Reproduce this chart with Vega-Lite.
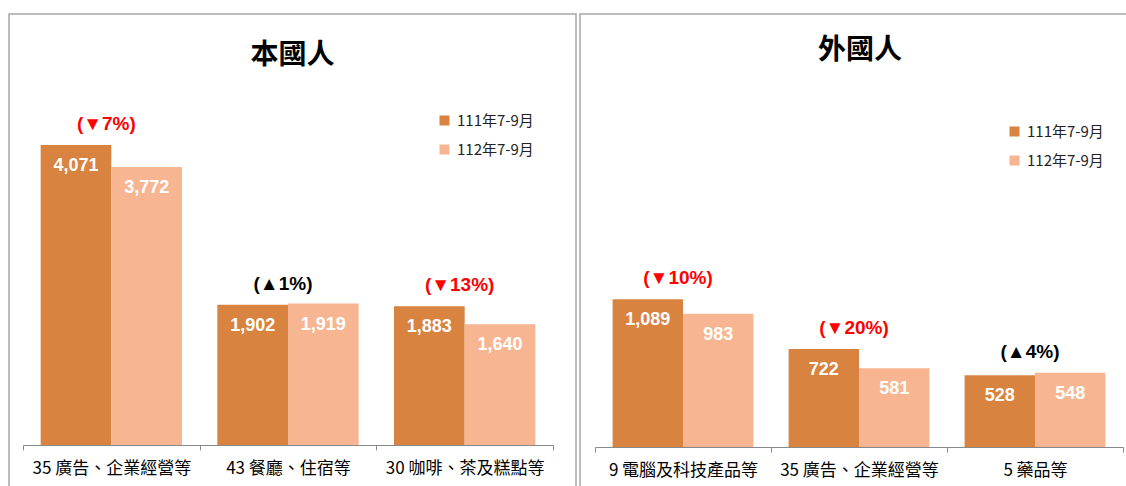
{
  "$schema": "https://vega.github.io/schema/vega-lite/v6.json",
  "background": "white",
  "padding": {"left": 8, "top": 13, "right": 0, "bottom": 0},
  "spacing": 2,
  "config": {
    "view": {"stroke": "#A6A6A6", "strokeWidth": 1.5},
    "font": "Noto Sans CJK TC"
  },
  "resolve": {
    "scale": {"x": "independent", "y": "independent", "color": "independent", "fill": "independent", "xOffset": "independent"},
    "legend": {"color": "independent"}
  },
  "hconcat": [
    {
      "width": 567,
      "height": 475,
      "title": {"text": "本國人", "fontSize": 28, "fontWeight": "bold", "font": "Noto Sans CJK TC", "color": "#000000", "anchor": "middle", "offset": -70, "baseline": "middle"},
      "layer": [
        {
          "data": {"values": [
            {"cat": "35 廣告、企業經營等", "period": "111年7-9月", "value": 4071},
            {"cat": "35 廣告、企業經營等", "period": "112年7-9月", "value": 3772},
            {"cat": "43 餐廳、住宿等", "period": "111年7-9月", "value": 1902},
            {"cat": "43 餐廳、住宿等", "period": "112年7-9月", "value": 1919},
            {"cat": "30 咖啡、茶及糕點等", "period": "111年7-9月", "value": 1883},
            {"cat": "30 咖啡、茶及糕點等", "period": "112年7-9月", "value": 1640}
          ]},
          "layer": [
            {
              "mark": {"type": "bar"},
              "encoding": {
                "x": {"field": "cat", "type": "nominal", "sort": null,
                  "scale": {"range": [14, 544], "paddingInner": 0, "paddingOuter": 0},
                  "axis": {"title": null, "orient": "bottom", "offset": -44, "domainColor": "#898989", "tickColor": "#898989", "tickBand": "extent", "tickSize": 5, "labelFontSize": 17, "labelColor": "#000000", "labelPadding": 10, "labelFont": "Noto Sans CJK TC", "labelAngle": 0, "grid": false, "labelLimit": 0}},
                "xOffset": {"field": "period", "type": "nominal", "sort": null, "scale": {"paddingInner": 0, "paddingOuter": 0.25}},
                "y": {"field": "value", "type": "quantitative", "scale": {"domain": [-597, 5849], "nice": false}, "axis": null},
                "y2": {"datum": 0},
                "color": {"field": "period", "type": "nominal",
                  "scale": {"domain": ["111年7-9月", "112年7-9月"], "range": ["#D98340", "#F8B592"]},
                  "legend": {"title": null, "orient": "none", "legendX": 428, "legendY": 99, "symbolType": "square", "symbolSize": 100, "symbolOpacity": 1, "symbolStrokeWidth": 0, "labelFontSize": 15, "labelFont": "Noto Sans CJK TC", "labelColor": "#222222", "labelOffset": 5, "rowPadding": 13, "padding": 0}}
              }
            },
            {
              "mark": {"type": "text", "baseline": "middle", "dy": 21, "fill": "#FFFFFF", "fontWeight": "bold", "font": "Liberation Sans", "fontSize": 18},
              "encoding": {
                "x": {"field": "cat", "type": "nominal", "sort": null},
                "xOffset": {"field": "period", "type": "nominal", "sort": null},
                "y": {"field": "value", "type": "quantitative"},
                "text": {"field": "value", "type": "quantitative", "format": ","}
              }
            }
          ]
        },
        {
          "data": {"values": [
            {"cat": "35 廣告、企業經營等", "base": 4071, "change": "(▼7%)", "dir": "down"},
            {"cat": "43 餐廳、住宿等", "base": 1902, "change": "(▲1%)", "dir": "up"},
            {"cat": "30 咖啡、茶及糕點等", "base": 1883, "change": "(▼13%)", "dir": "down"}
          ]},
          "mark": {"type": "text", "baseline": "middle", "dy": -21, "dx": -5, "fontWeight": "bold", "font": "Liberation Sans", "fontSize": 19},
          "encoding": {
            "x": {"field": "cat", "type": "nominal", "sort": null},
            "y": {"field": "base", "type": "quantitative"},
            "text": {"field": "change", "type": "nominal"},
            "fill": {"field": "dir", "type": "nominal", "scale": {"domain": ["down", "up"], "range": ["#FF0000", "#000000"]}, "legend": null}
          }
        }
      ]
    },
    {
      "width": 560,
      "height": 475,
      "title": {"text": "外國人", "fontSize": 28, "fontWeight": "bold", "font": "Noto Sans CJK TC", "color": "#000000", "anchor": "middle", "offset": -65, "baseline": "middle"},
      "layer": [
        {
          "data": {"values": [
            {"cat": "9 電腦及科技產品等", "period": "111年7-9月", "value": 1089},
            {"cat": "9 電腦及科技產品等", "period": "112年7-9月", "value": 983},
            {"cat": "35 廣告、企業經營等", "period": "111年7-9月", "value": 722},
            {"cat": "35 廣告、企業經營等", "period": "112年7-9月", "value": 581},
            {"cat": "5 藥品等", "period": "111年7-9月", "value": 528},
            {"cat": "5 藥品等", "period": "112年7-9月", "value": 548}
          ]},
          "layer": [
            {
              "mark": {"type": "bar"},
              "encoding": {
                "x": {"field": "cat", "type": "nominal", "sort": null,
                  "scale": {"range": [15, 543], "paddingInner": 0, "paddingOuter": 0},
                  "axis": {"title": null, "orient": "bottom", "offset": -42, "domainColor": "#898989", "tickColor": "#898989", "tickBand": "extent", "tickSize": 5, "labelFontSize": 17, "labelColor": "#000000", "labelPadding": 10, "labelFont": "Noto Sans CJK TC", "labelAngle": 0, "grid": false, "labelLimit": 0}},
                "xOffset": {"field": "period", "type": "nominal", "sort": null, "scale": {"paddingInner": 0, "paddingOuter": 0.25}},
                "y": {"field": "value", "type": "quantitative", "scale": {"domain": [-310, 3193], "nice": false}, "axis": null},
                "y2": {"datum": 0},
                "color": {"field": "period", "type": "nominal",
                  "scale": {"domain": ["111年7-9月", "112年7-9月"], "range": ["#D98340", "#F8B592"]},
                  "legend": {"title": null, "orient": "none", "legendX": 427, "legendY": 110, "symbolType": "square", "symbolSize": 100, "symbolOpacity": 1, "symbolStrokeWidth": 0, "labelFontSize": 15, "labelFont": "Noto Sans CJK TC", "labelColor": "#222222", "labelOffset": 5, "rowPadding": 13, "padding": 0}}
              }
            },
            {
              "mark": {"type": "text", "baseline": "middle", "dy": 21, "fill": "#FFFFFF", "fontWeight": "bold", "font": "Liberation Sans", "fontSize": 18},
              "encoding": {
                "x": {"field": "cat", "type": "nominal", "sort": null},
                "xOffset": {"field": "period", "type": "nominal", "sort": null},
                "y": {"field": "value", "type": "quantitative"},
                "text": {"field": "value", "type": "quantitative", "format": ","}
              }
            }
          ]
        },
        {
          "data": {"values": [
            {"cat": "9 電腦及科技產品等", "base": 1089, "change": "(▼10%)", "dir": "down"},
            {"cat": "35 廣告、企業經營等", "base": 722, "change": "(▼20%)", "dir": "down"},
            {"cat": "5 藥品等", "base": 548, "change": "(▲4%)", "dir": "up"}
          ]},
          "mark": {"type": "text", "baseline": "middle", "dy": -21, "dx": -5, "fontWeight": "bold", "font": "Liberation Sans", "fontSize": 19},
          "encoding": {
            "x": {"field": "cat", "type": "nominal", "sort": null},
            "y": {"field": "base", "type": "quantitative"},
            "text": {"field": "change", "type": "nominal"},
            "fill": {"field": "dir", "type": "nominal", "scale": {"domain": ["down", "up"], "range": ["#FF0000", "#000000"]}, "legend": null}
          }
        }
      ]
    }
  ]
}
